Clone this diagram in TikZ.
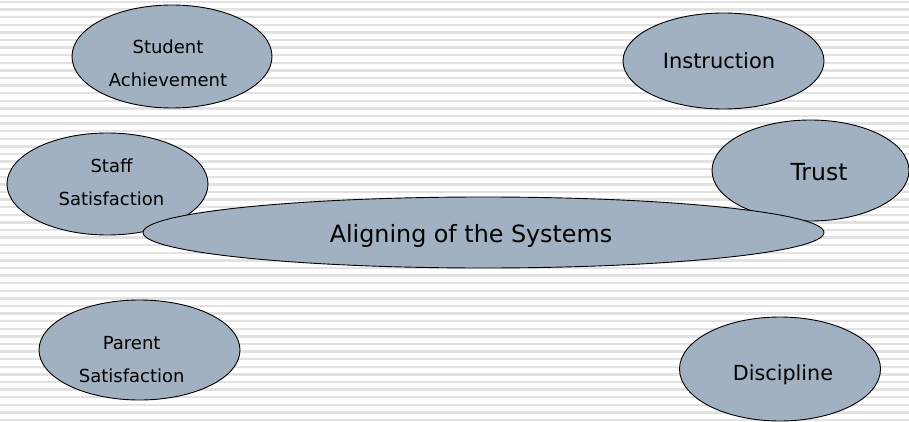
\documentclass[tikz,border=0pt]{standalone}
\usepackage{fontspec}
\setmainfont{DejaVu Sans}
\definecolor{bubblefill}{RGB}{162,177,193}
\definecolor{stripegray}{RGB}{226,226,226}
\tikzset{
  bubble/.style={fill=bubblefill,draw=black,line width=0.9},
  small/.style={align=center,font=\fontsize{18}{33.4}\selectfont},
  big/.style={anchor=base,font=\fontsize{21}{25}\selectfont},
}
\begin{document}
\begin{tikzpicture}[x=1pt,y=-1pt]
    \useasboundingbox (0,0) rectangle (909,422);
    \fill[white] (0,0) rectangle (909,422);
    \foreach \k in {0,...,55}
      \draw[stripegray,line width=2.4] (0,{2+7.6*\k}) -- (909,{2+7.6*\k});
    \filldraw[bubble] (172,56.5) ellipse [x radius=100,y radius=51.5];
    \node[small] (achieve) at (168,63.2) {Student\\Achievement};
    \filldraw[bubble] (723.5,61) ellipse [x radius=100.5,y radius=48];
    \node[big] (instr) at (719,68.3) {Instruction};
    \filldraw[bubble] (107.5,184) ellipse [x radius=100.5,y radius=51];
    \node[small] (staff) at (111.5,182.2) {Staff\\Satisfaction};
    \filldraw[bubble] (810.5,170.5) ellipse [x radius=98.5,y radius=50.5];
    \node[big,font=\fontsize{23.5}{28}\selectfont] (trust) at (819,180) {Trust};
    \filldraw[bubble] (139.5,350) ellipse [x radius=100.5,y radius=50];
    \node[small] (parent) at (131.7,359.6) {Parent\\Satisfaction};
    \filldraw[bubble] (780,369) ellipse [x radius=100.5,y radius=52];
    \node[big,font=\fontsize{20.7}{25}\selectfont] (discip) at (783,380) {Discipline};
    % the long one sits on top
    \filldraw[bubble] (483.5,232.5) ellipse [x radius=340.5,y radius=35.5];
    \node[big,font=\fontsize{23.8}{28}\selectfont] (align) at (471,242.3) {Aligning of the Systems};
\end{tikzpicture}
\end{document}
